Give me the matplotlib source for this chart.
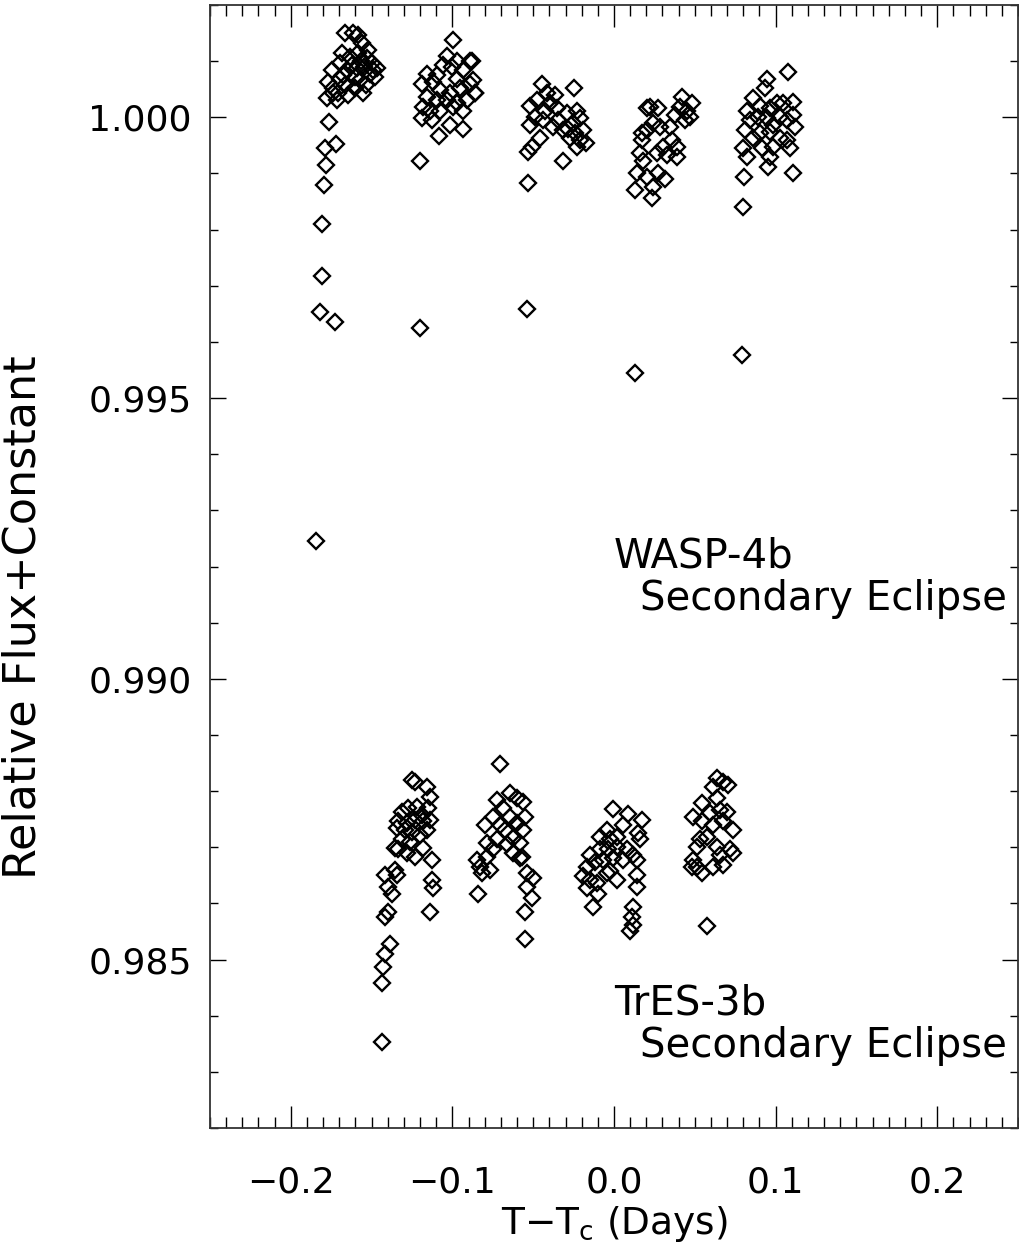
import matplotlib
matplotlib.use("Agg")
import matplotlib.pyplot as plt
from matplotlib.ticker import MultipleLocator, FuncFormatter
import numpy as np

# ---- data: (T - Tc [days], relative flux + constant) ----
wasp_visit1 = [(-0.1845, 0.99246), (-0.1820, 0.99653), (-0.1808, 0.99717), (-0.1728, 0.99635),
               (-0.1808, 0.99810), (-0.1796, 0.99879), (-0.1783, 0.99915), (-0.1789, 0.99945),
               (-0.1721, 0.99952), (-0.1765, 0.99991), (-0.1777, 1.00034), (-0.1715, 1.00030),
               (-0.1740, 1.00053), (-0.1771, 1.00062), (-0.1697, 1.00069), (-0.1746, 1.00084),
               (-0.1647, 1.00039), (-0.1554, 1.00043), (-0.1684, 1.00114), (-0.1666, 1.00151),
               (-0.1616, 1.00151), (-0.1585, 1.00146), (-0.1560, 1.00132), (-0.1635, 1.00107),
               (-0.1585, 1.00114), (-0.1529, 1.00105), (-0.1498, 1.00096), (-0.1548, 1.00089),
               (-0.1511, 1.00078), (-0.1480, 1.00071), (-0.1604, 1.00071), (-0.1653, 1.00084),
               (-0.1697, 1.00096), (-0.1666, 1.00057), (-0.1604, 1.00052), (-0.1573, 1.00066),
               (-0.1536, 1.00057), (-0.1740, 1.00043), (-0.1709, 1.00044), (-0.1492, 1.00084),
               (-0.1622, 1.00093), (-0.1591, 1.00087), (-0.1678, 1.00075), (-0.1467, 1.00087),
               (-0.1523, 1.00119), (-0.1567, 1.00101)]
wasp_visit2 = [(-0.1201, 0.99625), (-0.1201, 0.99923), (-0.1084, 0.99966), (-0.0935, 0.99980),
               (-0.1015, 0.99986), (-0.1189, 0.99998), (-0.1127, 0.99995), (-0.0997, 1.00137),
               (-0.1034, 1.00110), (-0.0972, 1.00101), (-0.0892, 1.00101), (-0.0935, 1.00084),
               (-0.1003, 1.00089), (-0.1059, 1.00093), (-0.1158, 1.00078), (-0.1189, 1.00060),
               (-0.1121, 1.00062), (-0.1077, 1.00048), (-0.1015, 1.00044), (-0.0954, 1.00053),
               (-0.0892, 1.00060), (-0.0861, 1.00044), (-0.0910, 1.00030), (-0.0972, 1.00025),
               (-0.1034, 1.00030), (-0.1096, 1.00030), (-0.1158, 1.00036), (-0.1183, 1.00018),
               (-0.1139, 1.00012), (-0.1077, 1.00012), (-0.0997, 1.00018), (-0.0935, 1.00012),
               (-0.0879, 1.00101), (-0.0873, 1.00066), (-0.0861, 1.00043), (-0.1096, 1.00075),
               (-0.0972, 1.00069)]
wasp_visit3 = [(-0.0539, 0.99658), (-0.0533, 0.99883), (-0.0316, 0.99923), (-0.0229, 0.99947),
               (-0.0508, 0.99947), (-0.0533, 0.99938), (-0.0458, 0.99964), (-0.0520, 0.99986),
               (-0.0446, 1.00060), (-0.0415, 1.00044), (-0.0248, 1.00052), (-0.0520, 1.00021),
               (-0.0477, 1.00030), (-0.0396, 1.00025), (-0.0353, 1.00016), (-0.0291, 1.00007),
               (-0.0229, 1.00012), (-0.0211, 0.99998), (-0.0254, 0.99989), (-0.0192, 0.99977),
               (-0.0211, 0.99959), (-0.0272, 0.99964), (-0.0316, 0.99977), (-0.0378, 0.99982),
               (-0.0440, 0.99995), (-0.0489, 1.00000), (-0.0427, 1.00012), (-0.0347, 0.99995),
               (-0.0285, 0.99980), (-0.0241, 0.99972), (-0.0365, 1.00039), (-0.0173, 0.99954)]
wasp_visit4 = [(0.0130, 0.99545), (0.0130, 0.99870), (0.0142, 0.99900), (0.0161, 0.99936),
               (0.0173, 0.99972), (0.0204, 1.00016), (0.0235, 0.99856), (0.0241, 0.99875),
               (0.0204, 0.99893), (0.0272, 0.99900), (0.0316, 0.99891), (0.0180, 0.99923),
               (0.0266, 0.99936), (0.0328, 0.99932), (0.0390, 0.99929), (0.0303, 0.99947),
               (0.0390, 0.99947), (0.0359, 0.99959), (0.0347, 0.99982), (0.0285, 0.99982),
               (0.0173, 0.99959), (0.0204, 0.99977), (0.0241, 0.99989), (0.0223, 1.00018),
               (0.0272, 1.00016), (0.0421, 1.00036), (0.0452, 1.00012), (0.0409, 1.00018),
               (0.0471, 1.00000), (0.0440, 0.99995), (0.0378, 1.00004), (0.0483, 1.00025)]
wasp_visit5 = [(0.0793, 0.99577), (0.0799, 0.99840), (0.0805, 0.99893), (0.0824, 0.99929),
               (0.0799, 0.99945), (0.0916, 0.99945), (0.0985, 0.99947), (0.1090, 0.99945),
               (0.0966, 0.99929), (0.0954, 0.99911), (0.1108, 0.99900), (0.0811, 0.99977),
               (0.0861, 0.99964), (0.0904, 0.99972), (0.0966, 0.99973), (0.1028, 0.99964),
               (0.1071, 0.99959), (0.0824, 1.00012), (0.0842, 0.99995), (0.0892, 1.00000),
               (0.0947, 0.99998), (0.0985, 0.99986), (0.1028, 1.00000), (0.1071, 0.99995),
               (0.1108, 1.00004), (0.1121, 0.99982), (0.0861, 1.00034), (0.0904, 1.00021),
               (0.0966, 1.00016), (0.1009, 1.00025), (0.1046, 1.00025), (0.1108, 1.00027),
               (0.0935, 1.00053), (0.0947, 1.00069), (0.1077, 1.00080)]

tres_visit1 = [(-0.1251, 0.98820), (-0.1232, 0.98817), (-0.1158, 0.98808), (-0.1139, 0.98790),
               (-0.1152, 0.98770), (-0.1313, 0.98763), (-0.1276, 0.98770), (-0.1220, 0.98772),
               (-0.1189, 0.98758), (-0.1337, 0.98746), (-0.1282, 0.98744), (-0.1232, 0.98749),
               (-0.1183, 0.98746), (-0.1139, 0.98749), (-0.1344, 0.98735), (-0.1294, 0.98731),
               (-0.1251, 0.98728), (-0.1201, 0.98722), (-0.1158, 0.98731), (-0.1313, 0.98714),
               (-0.1263, 0.98710), (-0.1337, 0.98696), (-0.1356, 0.98699), (-0.1282, 0.98690),
               (-0.1232, 0.98683), (-0.1183, 0.98699), (-0.1127, 0.98678), (-0.1418, 0.98651),
               (-0.1356, 0.98660), (-0.1344, 0.98651), (-0.1399, 0.98630), (-0.1375, 0.98616),
               (-0.1127, 0.98642), (-0.1121, 0.98628), (-0.1139, 0.98585), (-0.1399, 0.98584),
               (-0.1418, 0.98575), (-0.1387, 0.98527), (-0.1418, 0.98509), (-0.1430, 0.98486),
               (-0.1437, 0.98459), (-0.1437, 0.98354)]
tres_visit2 = [(-0.0706, 0.98849), (-0.0724, 0.98785), (-0.0749, 0.98754), (-0.0799, 0.98740),
               (-0.0644, 0.98797), (-0.0601, 0.98788), (-0.0563, 0.98781), (-0.0687, 0.98770),
               (-0.0644, 0.98754), (-0.0601, 0.98744), (-0.0563, 0.98731), (-0.0625, 0.98717),
               (-0.0663, 0.98705), (-0.0582, 0.98708), (-0.0724, 0.98714), (-0.0786, 0.98708),
               (-0.0749, 0.98696), (-0.0786, 0.98683), (-0.0625, 0.98690), (-0.0582, 0.98681),
               (-0.0848, 0.98678), (-0.0830, 0.98664), (-0.0817, 0.98655), (-0.0768, 0.98660),
               (-0.0842, 0.98616), (-0.0570, 0.98683), (-0.0539, 0.98655), (-0.0502, 0.98646),
               (-0.0539, 0.98630), (-0.0508, 0.98610), (-0.0551, 0.98585), (-0.0551, 0.98536),
               (-0.0551, 0.98754), (-0.0706, 0.98740), (-0.0675, 0.98731)]
tres_visit3 = [(-0.0006, 0.98769), (0.0087, 0.98760), (0.0173, 0.98749), (0.0056, 0.98740),
               (0.0149, 0.98726), (0.0161, 0.98714), (-0.0043, 0.98731), (-0.0087, 0.98719),
               (-0.0025, 0.98714), (0.0019, 0.98719), (-0.0149, 0.98687), (-0.0087, 0.98696),
               (-0.0037, 0.98696), (0.0019, 0.98701), (0.0080, 0.98696), (0.0118, 0.98687),
               (-0.0167, 0.98665), (-0.0118, 0.98673), (-0.0068, 0.98678), (-0.0006, 0.98681),
               (0.0056, 0.98678), (0.0142, 0.98678), (-0.0192, 0.98648), (-0.0149, 0.98642),
               (-0.0105, 0.98637), (-0.0043, 0.98655), (0.0019, 0.98642), (-0.0025, 0.98657),
               (-0.0167, 0.98628), (-0.0099, 0.98616), (0.0142, 0.98651), (0.0142, 0.98630),
               (-0.0130, 0.98593), (0.0118, 0.98594), (0.0111, 0.98575), (0.0118, 0.98562),
               (0.0099, 0.98550)]
tres_visit4 = [(0.0638, 0.98824), (0.0675, 0.98817), (0.0706, 0.98811), (0.0613, 0.98808),
               (0.0638, 0.98788), (0.0545, 0.98779), (0.0489, 0.98753), (0.0545, 0.98746),
               (0.0594, 0.98761), (0.0656, 0.98767), (0.0700, 0.98763), (0.0613, 0.98740),
               (0.0675, 0.98746), (0.0737, 0.98731), (0.0576, 0.98719), (0.0533, 0.98714),
               (0.0514, 0.98701), (0.0638, 0.98701), (0.0656, 0.98687), (0.0718, 0.98696),
               (0.0737, 0.98690), (0.0489, 0.98678), (0.0514, 0.98665), (0.0545, 0.98655),
               (0.0483, 0.98664), (0.0613, 0.98665), (0.0675, 0.98669), (0.0576, 0.98559)]

x_ticks = [-0.2, -0.1, 0.0, 0.1, 0.2]
y_ticks = [0.985, 0.990, 0.995, 1.000]
labels = [("WASP-4b", "Secondary Eclipse", 0.0, 0.99199, 0.99123),
          ("TrES-3b", "Secondary Eclipse", 0.0, 0.98402, 0.98326)]

# ---- figure ----
plt.rcParams['font.family'] = ['DejaVu Sans']
fig = plt.figure(figsize=(10.19, 12.55), dpi=100)
ax = fig.add_axes([210/1019, 1-1128/1255, 808/1019, 1123/1255])

for visit in [wasp_visit1, wasp_visit2, wasp_visit3, wasp_visit4, wasp_visit5,
              tres_visit1, tres_visit2, tres_visit3, tres_visit4]:
    arr = np.array(visit)
    ax.plot(arr[:, 0], arr[:, 1], linestyle='none', marker='D', markersize=7.8,
            markerfacecolor='none', markeredgecolor='black', markeredgewidth=1.7)

ax.set_xlim(-0.25, 0.25)
ax.set_ylim(0.982, 1.002)
ax.set_xticks(x_ticks)
ax.set_yticks(y_ticks)
ax.xaxis.set_major_formatter(FuncFormatter(lambda v, p: f'{v:.1f}'.replace('-', '\u2212')))
ax.yaxis.set_major_formatter(FuncFormatter(lambda v, p: f'{v:.3f}'))
ax.xaxis.set_minor_locator(MultipleLocator(0.01))
ax.yaxis.set_minor_locator(MultipleLocator(0.001))

ax.tick_params(axis='x', which='major', direction='in', length=15.5, width=1.0,
               top=True, bottom=True, labelsize=26, pad=27)
ax.tick_params(axis='x', which='minor', direction='in', length=7.8, width=1.0,
               top=True, bottom=True)
ax.tick_params(axis='y', which='major', direction='in', length=11.5, width=1.0,
               left=True, right=True, labelsize=26, pad=13)
ax.tick_params(axis='y', which='minor', direction='in', length=5.8, width=1.0,
               left=True, right=True)
for sp in ax.spines.values():
    sp.set_linewidth(1.3)
    sp.set_color('#333333')

ax.set_xlabel(r'T−T$_\mathrm{c}$ (Days)', fontsize=27)
ax.set_ylabel('Relative Flux+Constant', fontsize=32)
ax.xaxis.set_label_coords(0.5, -0.068)
ax.yaxis.set_label_coords(-0.205, 0.455)

for name, sub, x0, yb1, yb2 in labels:
    ax.text(x0, yb1, name, fontsize=29, ha='left', va='baseline')
    ax.text(x0 + 0.016, yb2, sub, fontsize=29, ha='left', va='baseline')

fig.savefig('out.png', dpi=100)
